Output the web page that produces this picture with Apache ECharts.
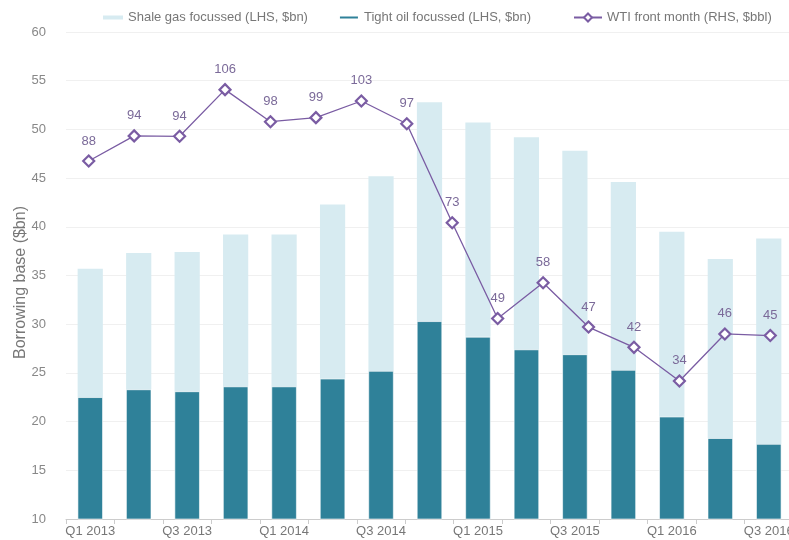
<!DOCTYPE html>
<html lang="en">
<head>
<meta charset="utf-8">
<title>Borrowing base</title>
<style>
  html, body { margin: 0; padding: 0; background: #fff; }
  #main { width: 789px; height: 540px; }
</style>
</head>
<body>
<div id="main"></div>
<script src="https://cdn.jsdelivr.net/npm/echarts@6/dist/echarts.min.js"></script>
<script type="text/javascript">
// quarters for the bars
var quarters = ['Q1 2013', 'Q2 2013', 'Q3 2013', 'Q4 2013', 'Q1 2014', 'Q2 2014', 'Q3 2014', 'Q4 2014',
    'Q1 2015', 'Q2 2015', 'Q3 2015', 'Q4 2015', 'Q1 2016', 'Q2 2016', 'Q3 2016'];
// the WTI line has one point more, on its own hidden axis
var wtiPeriods = ['p1', 'p2', 'p3', 'p4', 'p5', 'p6', 'p7', 'p8',
    'p9', 'p10', 'p11', 'p12', 'p13', 'p14', 'p15', 'p16'];
// borrowing base, $bn
var tightOil = [22.5, 23.3, 23.1, 23.6, 23.6, 24.4, 25.2, 30.3, 28.7, 27.4, 26.9, 25.3, 20.5, 18.3, 17.7];
var shaleGas = [13.2, 14.0, 14.3, 15.6, 15.6, 17.9, 20.0, 22.5, 22.0, 21.8, 20.9, 19.3, 19.0, 18.4, 21.1];
// WTI front month, $/bbl
var wti = [88.2, 94.4, 94.3, 105.8, 97.9, 98.9, 103.0, 97.4, 73.0, 49.4, 58.2, 47.3, 42.3, 34.0, 45.6, 45.2];

var font = "'Liberation Sans Narrow', 'Liberation Sans', Arial, sans-serif";
var purple = '#7a5ca3';

var chart = echarts.init(document.getElementById('main'));

var option = {
    textStyle: { fontFamily: font },
    animation: false,
    legend: [
        {
            left: 98, top: 6,
            data: ['Shale gas focussed (LHS, $bn)', 'Tight oil focussed (LHS, $bn)'],
            icon: 'rect',
            itemWidth: 20, itemHeight: 4,
            itemGap: 30,
            textStyle: { color: '#777', fontSize: 13, fontFamily: font }
        },
        {
            left: 568, top: 6,
            data: ['WTI front month (RHS, $bbl)'],
            itemWidth: 28, itemHeight: 10,
            textStyle: { color: '#777', fontSize: 13, fontFamily: font }
        }
    ],
    grid: { left: 66, right: -4, top: 32, bottom: 21, outerBoundsMode: 'none', containLabel: false },
    xAxis: [
        {
            type: 'category',
            data: quarters,
            axisLine: { lineStyle: { color: '#ccc' } },
            axisTick: { show: true, interval: 0, length: 5, lineStyle: { color: '#ccc' } },
            axisLabel: { interval: 1, color: '#777', fontSize: 13, margin: 6, fontFamily: font }
        },
        {
            type: 'category',
            data: wtiPeriods,
            position: 'bottom',
            show: false
        }
    ],
    yAxis: [
        {
            type: 'value',
            min: 10, max: 60, interval: 5,
            name: 'Borrowing base ($bn)',
            nameLocation: 'middle',
            nameGap: 37,
            nameMoveOverlap: false,
            nameTextStyle: { color: '#777', fontSize: 16, fontFamily: font, padding: [0, 14, 0, 0] },
            axisLine: { show: false },
            axisTick: { show: false },
            axisLabel: { color: '#888', fontSize: 13, margin: 20, fontFamily: font },
            splitLine: { lineStyle: { color: '#f0f0f0' } }
        },
        {
            type: 'value',
            min: 0, max: 120,
            show: false,
            splitLine: { show: false }
        }
    ],
    series: [
        {
            name: 'Tight oil focussed (LHS, $bn)',
            type: 'bar',
            stack: 'base',
            data: tightOil,
            barWidth: '52%',
            itemStyle: { color: '#2f8199', borderColor: '#fff', borderWidth: 0.6 }
        },
        {
            name: 'Shale gas focussed (LHS, $bn)',
            type: 'bar',
            stack: 'base',
            data: shaleGas,
            itemStyle: { color: '#d7ebf1' }
        },
        {
            name: 'WTI front month (RHS, $bbl)',
            type: 'line',
            xAxisIndex: 1,
            yAxisIndex: 1,
            data: wti,
            symbol: 'diamond',
            symbolSize: 11,
            lineStyle: { color: purple, width: 1.3 },
            itemStyle: { color: '#fff', borderColor: purple, borderWidth: 2.2 },
            label: {
                show: true,
                position: 'top',
                distance: 7,
                color: '#7b6a99',
                fontSize: 13,
                fontFamily: font,
                formatter: function (p) { return Math.round(p.value); }
            }
        }
    ]
};

chart.setOption(option);
</script>
</body>
</html>
